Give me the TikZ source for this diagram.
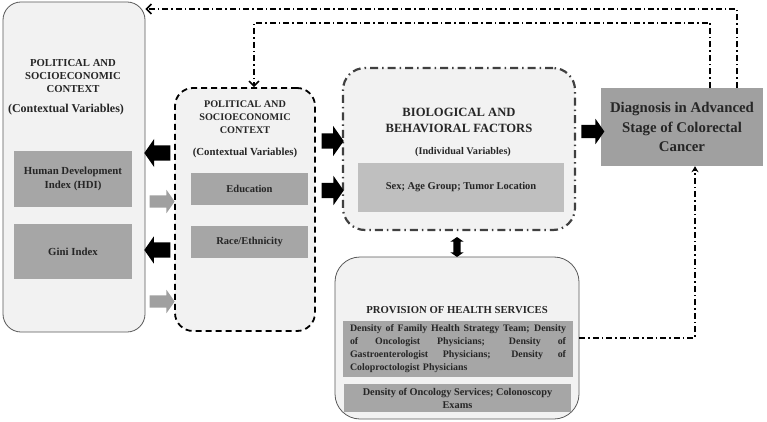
\documentclass[tikz,border=0pt]{standalone}
\usepackage{fontspec}
\setmainfont{Liberation Serif}
\usetikzlibrary{shapes.arrows,arrows.meta,calc}
\definecolor{panelbg}{HTML}{F2F2F2}
\definecolor{boxgray}{HTML}{A6A6A6}
\definecolor{sexgray}{HTML}{BFBFBF}
\definecolor{diaggray}{HTML}{A0A0A0}
\definecolor{arrowgray}{HTML}{A0A0A0}
\definecolor{txt}{HTML}{262626}
\definecolor{bordergray}{HTML}{595959}
\definecolor{biodash}{HTML}{404040}
\newcommand\jline[1]{\makebox[216pt][s]{\spaceskip=0.25em plus 1fil\relax #1}}
\begin{document}
\begin{tikzpicture}[x=1pt,y=-1pt, font=\bfseries, text=txt,
  panel/.style={fill=panelbg, rounded corners=#1, inner sep=0pt},
  panel/.default=18pt,
  graybox/.style={fill=boxgray, inner sep=2pt, align=center},
  fb/.style={line width=1.5pt, dash pattern=on 6pt off 3pt on 1.5pt off 3pt},
  blkarrow/.style={single arrow, draw=none, inner xsep=0pt, single arrow tip angle=110},
  capsfont/.style={font=\bfseries\fontsize{10.2}{13}\selectfont, align=center}
]
\useasboundingbox (0,0) rectangle (767,422);

% ---- panels
\node[panel=18pt, draw=bordergray, line width=0.8pt, minimum width=142pt, minimum height=330pt] (left) at (74,167) {};
\node[panel=18pt, draw=black, line width=1.8pt, dash pattern=on 6pt off 4pt, minimum width=140pt, minimum height=243pt] (mid) at (245,209.5) {};
\node[panel=22pt, draw=biodash, line width=2.2pt, dash pattern=on 8pt off 4pt on 1.5pt off 4pt, minimum width=232pt, minimum height=162pt] (bio) at (459,149) {};
\node[panel=25pt, draw=bordergray, line width=0.8pt, minimum width=244pt, minimum height=162pt] (health) at (457,338) {};
\node[fill=diaggray, minimum width=162pt, minimum height=78pt, align=center, inner sep=0pt,
      font=\bfseries\fontsize{14.8}{19.5}\selectfont] (diag) at (682,127)
      {Diagnosis in Advanced\\Stage of Colorectal\\Cancer};

% ---- left panel content
\node[capsfont, font=\bfseries\fontsize{10.7}{13}\selectfont] (lt) at (73,76) {POLITICAL AND\\SOCIOECONOMIC\\CONTEXT};
\node[font=\bfseries\fontsize{12}{13}\selectfont] (lsub) at (66,110) {(Contextual Variables)};
\node[graybox, minimum width=118pt, minimum height=56pt, font=\bfseries\fontsize{10.8}{13.5}\selectfont] (hdi) at (73,179) {Human Development\\Index (HDI)};
\node[graybox, minimum width=118pt, minimum height=55pt, font=\bfseries\fontsize{10.8}{13.5}\selectfont] (gini) at (73,251.5) {Gini Index};

% ---- middle panel content
\node[capsfont] (mt) at (245,117.5) {POLITICAL AND\\SOCIOECONOMIC\\CONTEXT};
\node[font=\bfseries\fontsize{10.8}{13}\selectfont] (msub) at (245,153) {(Contextual Variables)};
\node[graybox, minimum width=117pt, minimum height=32pt, font=\bfseries\fontsize{10.5}{13}\selectfont] (edu) at (249.5,189) {Education};
\node[graybox, minimum width=117pt, minimum height=32pt, font=\bfseries\fontsize{10.5}{13}\selectfont] (race) at (249.5,242) {Race/Ethnicity};

% ---- bio panel content
\node[font=\bfseries\fontsize{12.6}{15.5}\selectfont, align=center] (bt) at (459,120.5) {BIOLOGICAL AND\\BEHAVIORAL FACTORS};
\node[font=\bfseries\fontsize{10.2}{12}\selectfont] (bsub) at (463,152) {(Individual Variables)};
\node[graybox, fill=sexgray, minimum width=206pt, minimum height=49pt, font=\bfseries\fontsize{10.5}{13}\selectfont] (sex) at (461,187.5) {Sex; Age Group; Tumor Location};

% ---- health panel content
\node[font=\bfseries\fontsize{10.7}{13}\selectfont] (ht) at (457,310) {PROVISION OF HEALTH SERVICES};
\node[graybox, minimum width=230pt, minimum height=56pt, align=left, text width=216pt, inner sep=0pt,
      font=\bfseries\fontsize{9.9}{13}\selectfont] (h1) at (458,349)
  {\jline{Density of Family Health Strategy Team; Density}\\
   \jline{of Oncologist Physicians; Density of}\\
   \jline{Gastroenterologist Physicians; Density of}\\
   Coloproctologist Physicians};
\node[graybox, minimum width=227pt, minimum height=28pt, inner sep=0pt,
      font=\bfseries\fontsize{10.3}{13}\selectfont] (h2) at (457.5,398)
  {Density of Oncology Services; Colonoscopy\\Exams};

% ---- block arrows
\node[blkarrow, fill=black, minimum height=26pt, inner ysep=7.5pt, single arrow head extend=6.5pt, shape border rotate=180] (a1) at (160,153) {};
\node[blkarrow, fill=arrowgray, minimum height=25pt, inner ysep=6pt, single arrow head extend=5.5pt] (a2) at (160,201.5) {};
\node[blkarrow, fill=black, minimum height=26pt, inner ysep=7.5pt, single arrow head extend=6pt, shape border rotate=180] (a3) at (160,250) {};
\node[blkarrow, fill=arrowgray, minimum height=25pt, inner ysep=6pt, single arrow head extend=5.5pt] (a4) at (160,301.5) {};
\node[blkarrow, fill=black, minimum height=22pt, inner ysep=7.5pt, single arrow head extend=7.5pt] (a5) at (330,141) {};
\node[blkarrow, fill=black, minimum height=22pt, inner ysep=7.5pt, single arrow head extend=7pt] (a6) at (330,190.5) {};
\node[blkarrow, fill=black, minimum height=23pt, inner ysep=6.5pt, single arrow head extend=6pt] (a7) at (590.5,131.5) {};
\node[double arrow, fill=black, draw=none, inner xsep=0pt, inner ysep=3.5pt, minimum height=20pt, double arrow head extend=3pt, double arrow tip angle=110, rotate=90] (a8) at (457,247) {};

% ---- feedback connectors
\coordinate (fbout) at (737,9);
\coordinate (fbin) at (254,23);
\draw[fb, -{Straight Barb[length=5pt,width=10pt]}] ([xshift=-26pt]diag.north east) |- (fbout) -- (fbout -| left.east);
\draw[fb, -{Straight Barb[length=5pt,width=10pt]}] ([xshift=-53pt]diag.north east) |- (fbin) -- (fbin |- mid.north);
\draw[fb, -{Stealth[length=6pt,width=7pt]}] (health.east) -| ([xshift=13pt]diag.south);
\end{tikzpicture}
\end{document}
